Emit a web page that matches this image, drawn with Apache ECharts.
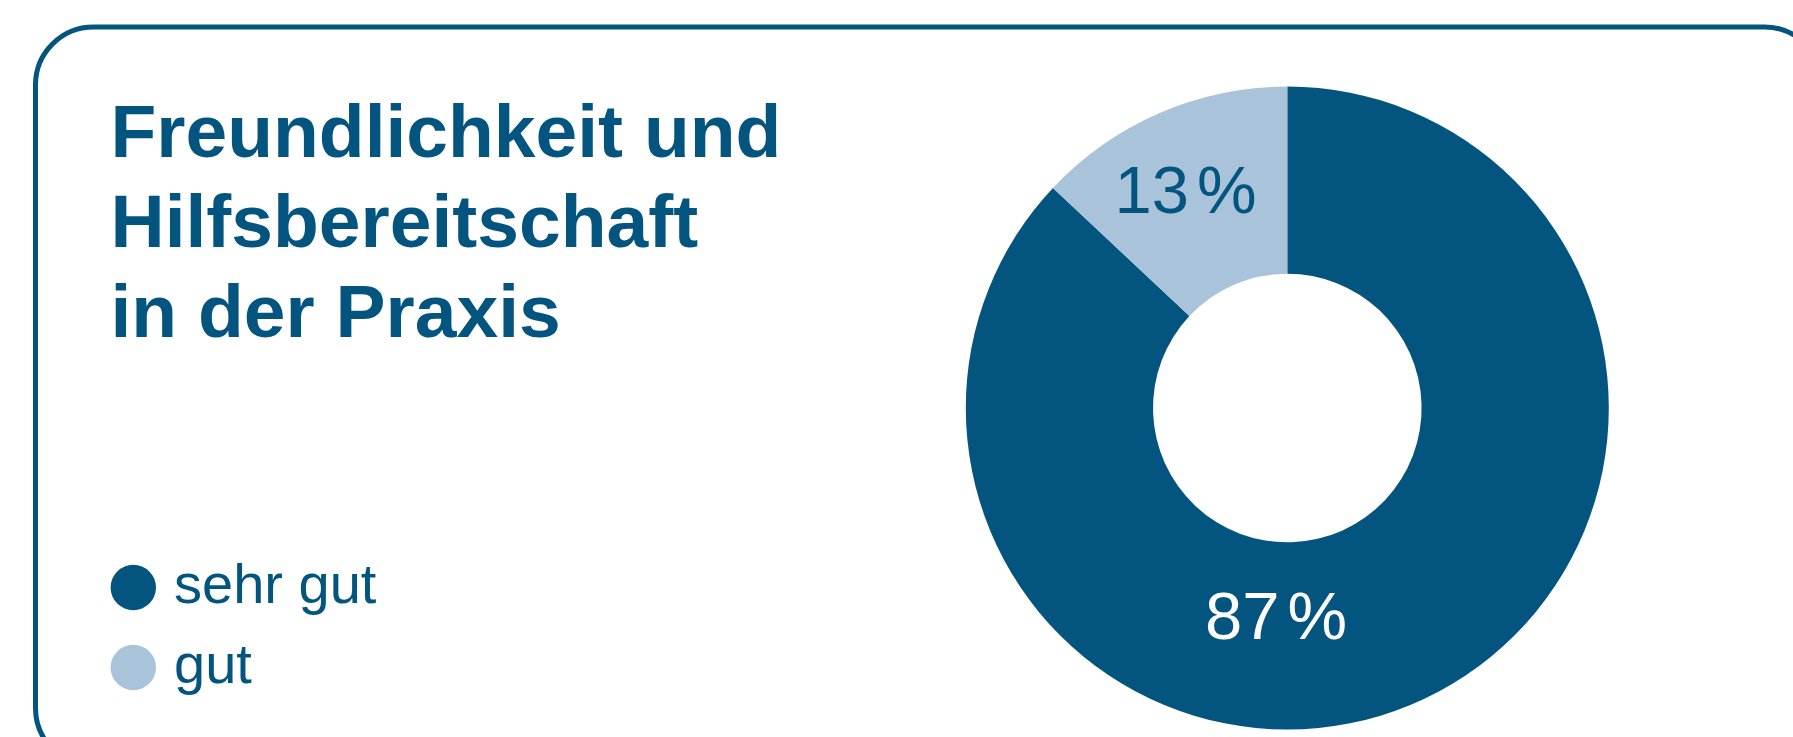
<!DOCTYPE html>
<html>
<head>
<meta charset="utf-8">
<script src="https://cdn.jsdelivr.net/npm/echarts@6/dist/echarts.min.js"></script>
<style>
  html, body { margin: 0; padding: 0; background: #ffffff; }
  #chart { width: 1793px; height: 737px; }
</style>
</head>
<body>
<div id="chart"></div>
<script>
// Survey result: friendliness and helpfulness in the practice
const categories = ['sehr gut', 'gut'];
const shares = [87, 13];
const titleLines = ['Freundlichkeit und', 'Hilfsbereitschaft', 'in der Praxis'];

const DARK = '#03557f';
const LIGHT = '#a9c4da';
const sliceColors = [DARK, LIGHT];
const labelColors = ['#ffffff', DARK];
const FONT = '"Liberation Sans", Arial, Helvetica, sans-serif';

const chart = echarts.init(document.getElementById('chart'), null, { renderer: 'canvas' });

chart.setOption({
  backgroundColor: '#ffffff',
  animation: false,
  graphic: [{
    // rounded frame running off the right and bottom edges
    type: 'rect',
    z: 0,
    silent: true,
    shape: { x: 35.5, y: 27, width: 1787, height: 739, r: 58 },
    style: { fill: 'none', stroke: DARK, lineWidth: 5 }
  }],
  title: {
    text: titleLines.join('\n'),
    left: 110.5,
    top: 91.5,
    padding: 0,
    textStyle: {
      fontFamily: FONT,
      fontSize: 75,
      fontWeight: 'bold',
      lineHeight: 90,
      color: DARK
    }
  },
  legend: {
    data: categories,
    orient: 'vertical',
    left: 110.6,
    top: 559.5,
    padding: 0,
    icon: 'circle',
    itemWidth: 45.4,
    itemHeight: 45.4,
    itemGap: 24,
    selectedMode: false,
    textStyle: {
      fontFamily: FONT,
      fontSize: 56,
      lineHeight: 56,
      color: DARK,
      padding: [0, 0, 0, 13]
    }
  },
  series: [{
    type: 'pie',
    center: [1287.3, 408],
    radius: [134.3, 321.5],
    startAngle: 90,
    clockwise: true,
    avoidLabelOverlap: false,
    silent: true,
    emphasis: { disabled: true },
    label: {
      show: true,
      position: 'inside',
      formatter: '{v|{c}}{p|%}',
      fontFamily: FONT,
      fontSize: 67,
      fontWeight: 'normal',
      rich: {
        v: { fontFamily: FONT, fontSize: 67 },
        p: { fontFamily: FONT, fontSize: 67, padding: [0, 0, 0, 8] }
      }
    },
    labelLine: { show: false },
    labelLayout: function (params) {
      return params.dataIndex === 0 ? { dx: -103, dy: 1 } : { dx: -10, dy: -1.5 };
    },
    data: categories.map(function (name, i) {
      return {
        name: name,
        value: shares[i],
        itemStyle: { color: sliceColors[i] },
        label: { color: labelColors[i] }
      };
    })
  }]
});
</script>
</body>
</html>
